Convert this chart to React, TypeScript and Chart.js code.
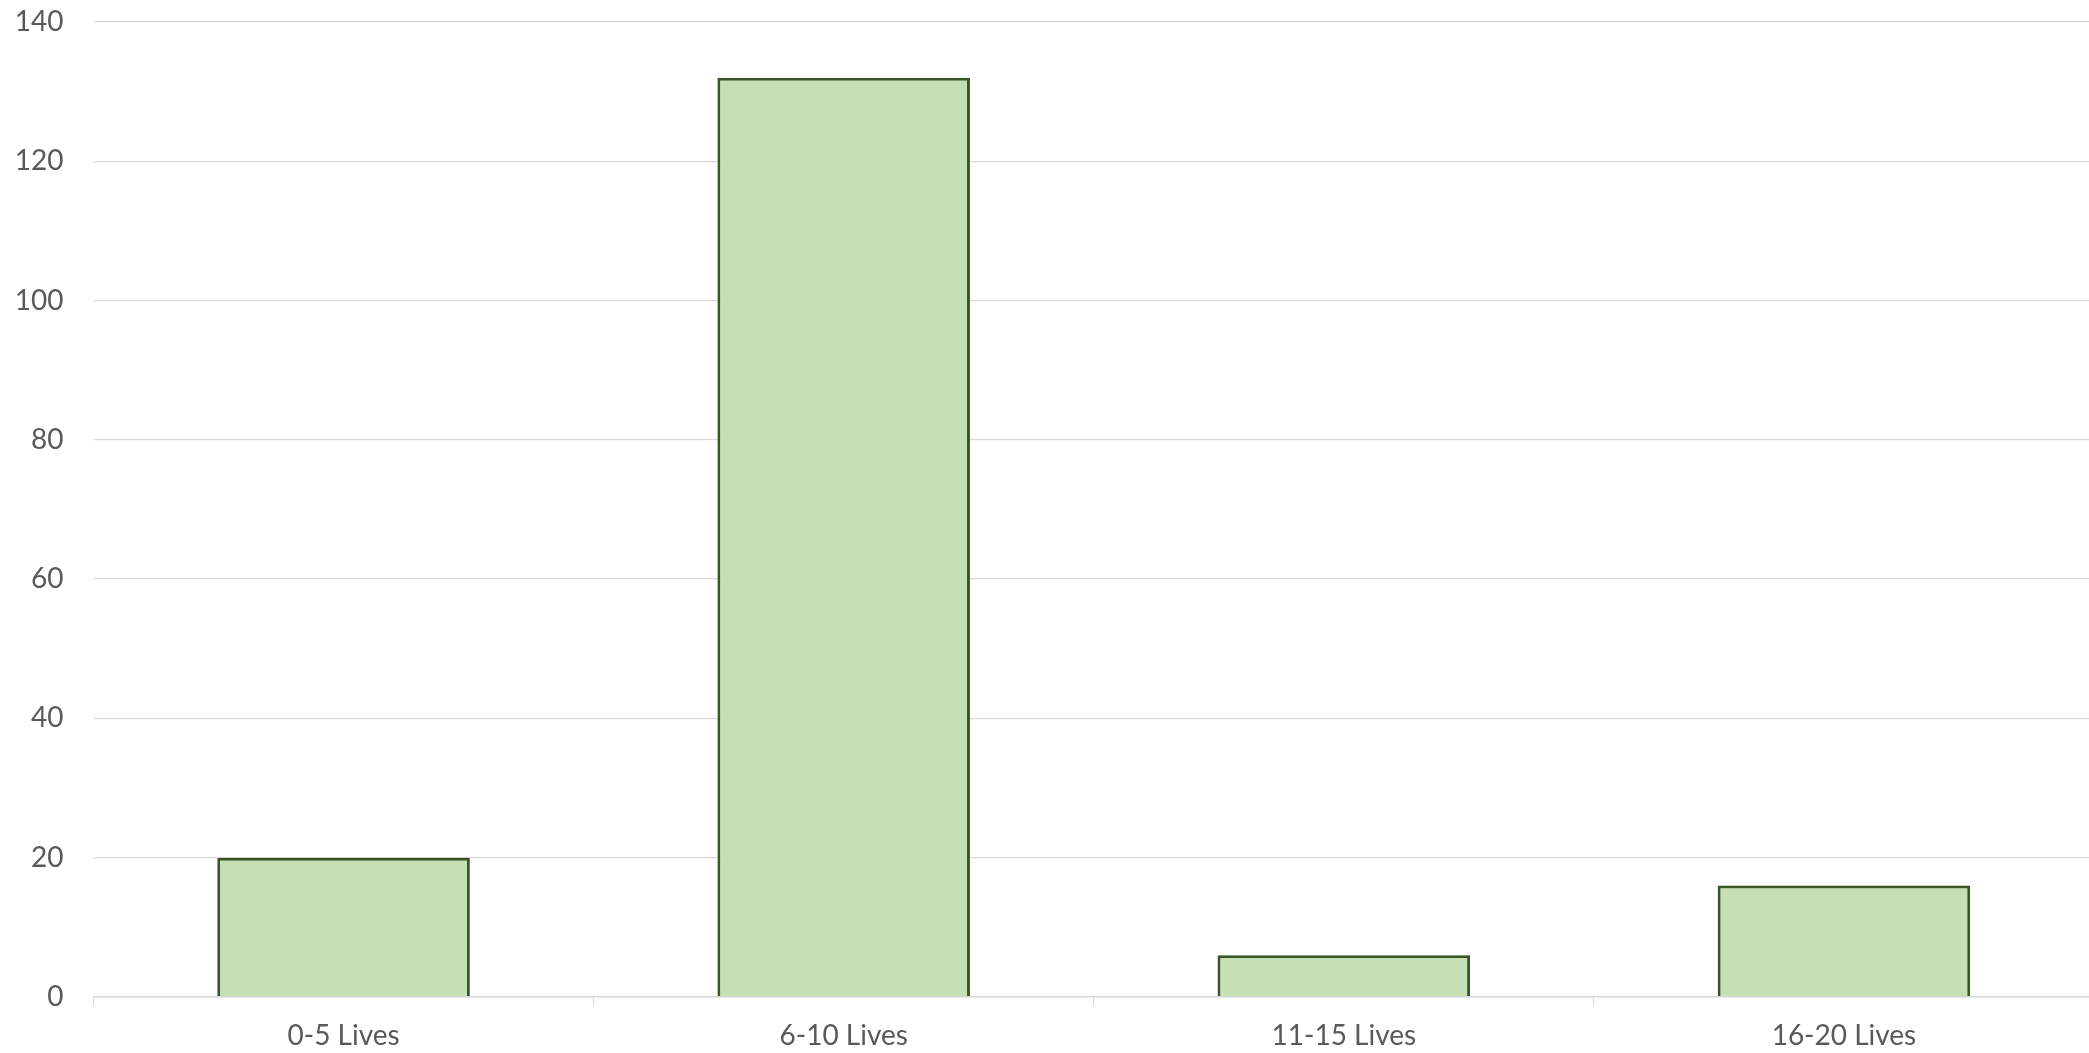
import React, { useEffect, useRef } from "react";
import { Chart, registerables } from "chart.js";

Chart.register(...registerables);

const categories = ["0-5 Lives", "6-10 Lives", "11-15 Lives", "16-20 Lives"];
const counts = [20, 132, 6, 16];
const yTicks = [0, 20, 40, 60, 80, 100, 120, 140];

export default function App() {
  const ref = useRef<HTMLCanvasElement | null>(null);

  useEffect(() => {
    if (!ref.current) return;
    const chart = new Chart(ref.current, {
      type: "bar",
      data: {
        labels: categories,
        datasets: [
          {
            data: counts,
            backgroundColor: "#C5E0B4",
            borderColor: "#375623",
            borderWidth: 3,
            borderSkipped: "start",
            barPercentage: 0.505,
            categoryPercentage: 1,
          },
        ],
      },
      options: {
        animation: false,
        responsive: false,
        maintainAspectRatio: false,
        layout: { padding: { top: 22, right: 0, bottom: 0, left: 0 } },
        plugins: {
          legend: { display: false },
          tooltip: { enabled: false },
        },
        scales: {
          x: {
            offset: true,
            grid: {
              offset: true,
              drawOnChartArea: false,
              drawTicks: true,
              tickLength: 9,
              color: "#D9D9D9",
              lineWidth: 1,
            },
            border: { display: true, color: "#D9D9D9", width: 1.5 },
            ticks: {
              color: "#595959",
              font: { family: "Lato", size: 28 },
              padding: 13,
              maxRotation: 0,
            },
            afterFit: (s: any) => {
              s.height = 56;
            },
          },
          y: {
            min: 0,
            max: 140,
            afterBuildTicks: (s: any) => {
              s.ticks = yTicks.map((v) => ({ value: v }));
            },
            grid: {
              drawTicks: true,
              tickLength: 30,
              tickColor: "rgba(0,0,0,0)",
              color: "#D9D9D9",
              lineWidth: 1.3,
            },
            border: { display: false },
            ticks: {
              color: "#595959",
              font: { family: "Lato", size: 28 },
              padding: 0,
            },
            afterFit: (s: any) => {
              s.width = 93.5;
            },
          },
        },
      },
    });
    return () => chart.destroy();
  }, []);

  return (
    <div
      style={{
        position: "fixed",
        left: 0,
        top: 0,
        width: 2089,
        height: 1053,
        overflow: "hidden",
        background: "#ffffff",
      }}
    >
      <canvas ref={ref} width={2094} height={1053} style={{ display: "block" }} />
    </div>
  );
}
